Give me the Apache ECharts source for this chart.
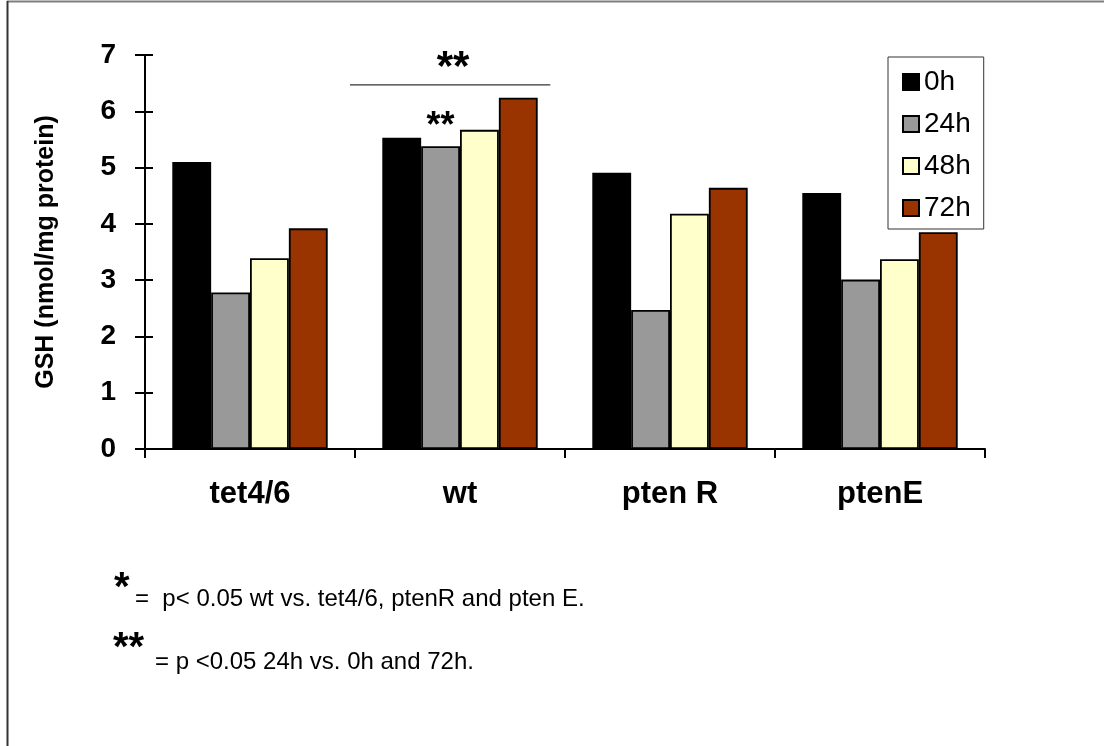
<!DOCTYPE html>
<html>
<head>
<meta charset="utf-8">
<script src="https://cdn.jsdelivr.net/npm/echarts@6/dist/echarts.min.js"></script>
<style>
html,body{margin:0;padding:0;background:#fff;}
#chart{width:1104px;height:746px;}
</style>
</head>
<body>
<div id="chart"></div>
<script>
// ---- data ----
const categories = ['tet4/6', 'wt', 'pten R', 'ptenE'];
const seriesNames = ['0h', '24h', '48h', '72h'];
const values0h  = [5.10, 5.53, 4.91, 4.55];
const values24h = [2.78, 5.38, 2.47, 3.01];
const values48h = [3.39, 5.67, 4.18, 3.37];
const values72h = [3.92, 6.24, 4.64, 3.85];
const yMin = 0, yMax = 7, yInterval = 1;
const yTitle = 'GSH (nmol/mg protein)';
const sigLevel = 6.47;           // height of the ** bracket line
const footnote1Star = '*';
const footnote1Text = '=  p< 0.05 wt vs. tet4/6, ptenR and pten E.';
const footnote2Star = '**';
const footnote2Text = '= p <0.05 24h vs. 0h and 72h.';

const colors = ['#000000', '#999999', '#FFFFCC', '#993300'];
const FONT = "'Liberation Sans', Arial, sans-serif";

const allValues = [values0h, values24h, values48h, values72h];

const chart = echarts.init(document.getElementById('chart'), null, {renderer: 'canvas'});

const series = seriesNames.map((name, i) => ({
  name: name,
  type: 'bar',
  yAxisIndex: 0,
  barGap: '0%',
  barCategoryGap: '26%',
  itemStyle: {color: colors[i], borderColor: '#000', borderWidth: 1.8},
  emphasis: {disabled: true},
  data: allValues[i].map((v, j) => {
    if (name === '24h' && categories[j] === 'wt') {
      return {value: v, label: {show: true, position: 'top', distance: 1, formatter: '**',
        fontFamily: FONT, fontSize: 36, fontWeight: 'bold', color: '#000'}};
    }
    return v;
  })
}));

chart.setOption({
  animation: false,
  backgroundColor: '#fff',
  grid: {left: 145, right: 119, top: 55, bottom: 297, containLabel: false},
  legend: {
    orient: 'vertical', left: 888, top: 57,
    data: seriesNames,
    icon: 'rect', itemWidth: 16, itemHeight: 16, itemGap: 14,
    padding: [11, 13, 7, 14],
    borderColor: '#333', borderWidth: 1,
    textStyle: {fontFamily: FONT, fontSize: 28, color: '#000'},
    selectedMode: false
  },
  xAxis: {
    type: 'category', data: categories,
    axisLine: {lineStyle: {color: '#000', width: 2}},
    axisTick: {show: true, length: 9, lineStyle: {color: '#000', width: 2}},
    axisLabel: {fontFamily: FONT, fontSize: 31, fontWeight: 'bold', color: '#000', margin: 30},
    splitLine: {show: false}
  },
  yAxis: [{
    type: 'value', min: yMin, max: yMax, interval: yInterval,
    name: yTitle, nameLocation: 'middle', nameRotate: 90, nameGap: 86,
    nameTextStyle: {fontFamily: FONT, fontSize: 25, fontWeight: 'bold', color: '#000'},
    axisLine: {show: true, lineStyle: {color: '#000', width: 2}},
    axisTick: {show: true, length: 10, lineStyle: {color: '#000', width: 2}},
    axisLabel: {fontFamily: FONT, fontSize: 28, fontWeight: 'bold', color: '#000', margin: 29},
    splitLine: {show: false}
  }, {
    type: 'value', min: yMin, max: yMax, interval: yInterval, position: 'left',
    axisLine: {show: false},
    axisTick: {show: true, inside: true, length: 8, lineStyle: {color: '#000', width: 2}},
    axisLabel: {show: false},
    splitLine: {show: false}
  }],
  series: series
});

// annotations anchored to the axes
const wtPx = chart.convertToPixel({xAxisIndex: 0, yAxisIndex: 0}, ['wt', sigLevel]);
const catW = chart.getModel().getComponent('xAxis', 0).axis.getBandWidth();
chart.setOption({
  graphic: [
    {type: 'line', shape: {x1: 7, y1: 1.5, x2: 1104, y2: 1.5}, style: {stroke: '#7f7f7f', lineWidth: 2}},
    {type: 'line', shape: {x1: 7.5, y1: 1, x2: 7.5, y2: 746}, style: {stroke: '#333', lineWidth: 2}},
    {type: 'line', shape: {x1: wtPx[0] - catW * 0.524, y1: wtPx[1], x2: wtPx[0] + catW * 0.43, y2: wtPx[1]},
      style: {stroke: '#333', lineWidth: 1.2}},
    {type: 'text', x: wtPx[0] - 7, y: wtPx[1] - 16,
      style: {text: '**', font: "bold 42px " + FONT, fill: '#000', textAlign: 'center', textVerticalAlign: 'middle'}},
    {type: 'text', x: 114, y: 589,
      style: {text: footnote1Star, font: "bold 40px " + FONT, fill: '#000', textAlign: 'left', textVerticalAlign: 'middle'}},
    {type: 'text', x: 135, y: 599,
      style: {text: footnote1Text, font: "24px " + FONT, fill: '#000', textAlign: 'left', textVerticalAlign: 'middle'}},
    {type: 'text', x: 113, y: 649,
      style: {text: footnote2Star, font: "bold 40px " + FONT, fill: '#000', textAlign: 'left', textVerticalAlign: 'middle'}},
    {type: 'text', x: 155, y: 662,
      style: {text: footnote2Text, font: "24px " + FONT, fill: '#000', textAlign: 'left', textVerticalAlign: 'middle'}}
  ]
});
</script>
</body>
</html>
